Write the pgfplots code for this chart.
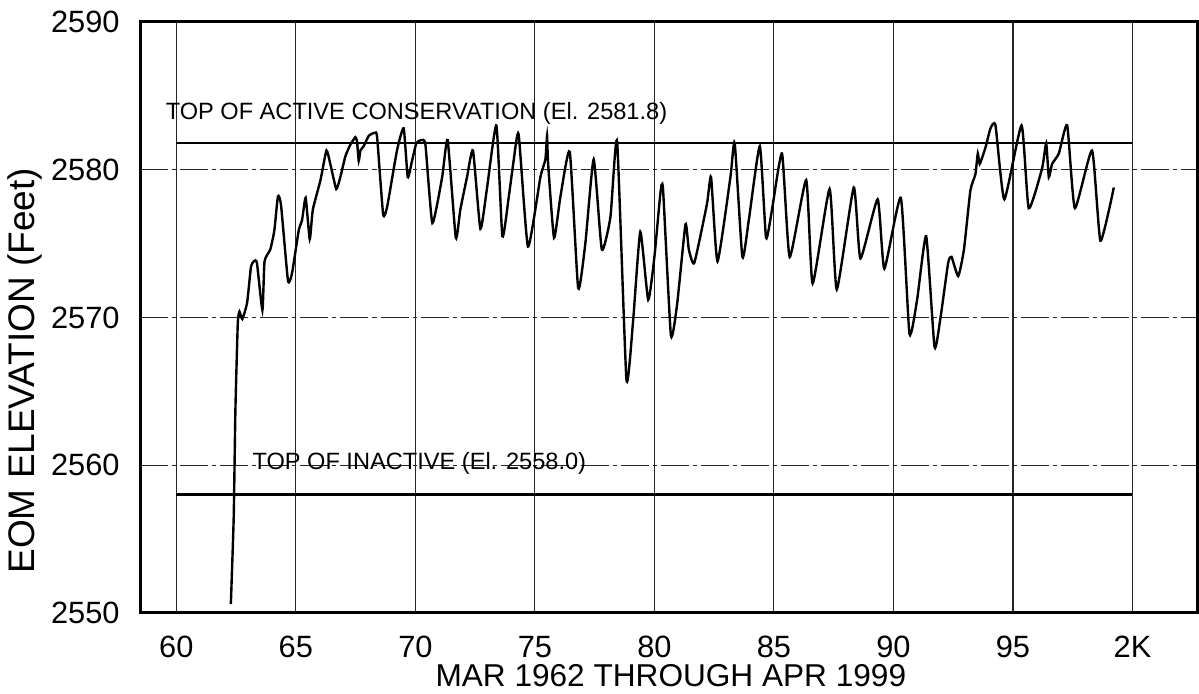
\documentclass[border=0pt]{standalone}
\usepackage{fontspec}
\setmainfont{Liberation Sans}
\usepackage{pgfplots}
\pgfplotsset{compat=1.18}

\begin{document}
\begin{tikzpicture}
\begin{axis}[
  scale only axis,
  width=528.25pt, height=295.5pt,
  xmin=58.5, xmax=102.7,
  ymin=2550, ymax=2590,
  xtick={60,65,...,100},
  xticklabels={60,65,70,75,80,85,90,95,2K},
  ytick={2550,2560,...,2590},
  grid=major,
  major x grid style={black!85, line width=0.55pt},
  major y grid style={black!85, line width=0.55pt, dash pattern=on 14pt off 2pt on 2pt off 2pt},
  major tick length=0pt,
  axis line style={line width=1.5pt},
  tick label style={font=\fontsize{15.4}{18}\selectfont, inner sep=0pt},
  /pgf/number format/assume math mode=true,
  /pgf/number format/set thousands separator={},
  xticklabel shift=11.5pt,
  yticklabel shift=10.25pt,
  xlabel={MAR 1962 THROUGH APR 1999},
  ylabel={EOM ELEVATION (Feet)},
  xlabel style={font=\fontsize{15.8}{18}\selectfont, at={(axis description cs:0.502,-0.086)}, anchor=north, inner sep=0pt},
  ylabel style={font=\fontsize{18.5}{22}\selectfont, at={(axis description cs:-0.109,0.41)}, anchor=center, inner sep=0pt},
]
% monthly end-of-month elevation
\addplot[black, line width=1.2pt, smooth, tension=0.3] coordinates {
(62.28,2550.6)(62.40,2556.5)(62.47,2563.7)(62.57,2569.6)(62.64,2570.4)
(62.76,2569.9)(62.96,2571.0)(63.12,2573.4)(63.24,2573.8)(63.37,2573.7)
(63.60,2570.5)(63.69,2573.8)(63.93,2574.6)(64.10,2575.9)(64.25,2578.2)
(64.38,2577.6)(64.67,2572.5)(64.84,2573.0)(65.12,2575.9)(65.26,2576.6)
(65.41,2578.1)(65.58,2575.3)(65.71,2577.3)(66.03,2579.3)(66.28,2581.3)
(66.44,2580.4)(66.69,2578.7)(66.86,2579.5)(67.07,2580.9)(67.28,2581.7)
(67.49,2582.2)(67.56,2581.9)(67.63,2580.6)(67.70,2581.3)(67.84,2581.6)
(68.05,2582.3)(68.30,2582.5)(68.40,2582.2)(68.65,2577.0)(68.82,2577.5)
(69.23,2581.3)(69.51,2582.8)(69.68,2579.5)(69.86,2580.6)(70.04,2581.8)
(70.24,2582.0)(70.42,2581.7)(70.71,2576.4)(71.12,2579.5)(71.35,2582.0)
(71.69,2575.4)(71.88,2577.3)(72.16,2579.5)(72.41,2581.3)(72.72,2576.0)
(73.00,2578.8)(73.39,2583.0)(73.64,2575.5)(73.91,2578.2)(74.11,2580.6)
(74.32,2582.4)(74.71,2574.8)(75.23,2579.5)(75.44,2580.7)(75.51,2582.3)
(75.55,2580.5)(75.80,2575.4)(76.07,2578.2)(76.46,2581.2)(76.81,2572.0)
(77.11,2575.0)(77.46,2580.7)(77.80,2574.6)(78.16,2576.8)(78.44,2581.9)
(78.83,2565.8)(79.11,2569.8)(79.41,2575.8)(79.74,2571.2)(80.00,2574.1)
(80.25,2578.4)(80.36,2578.7)(80.69,2568.8)(80.95,2570.9)(81.30,2576.3)
(81.44,2574.6)(81.67,2573.7)(82.20,2577.7)(82.37,2579.5)(82.64,2573.8)
(83.18,2579.5)(83.36,2581.8)(83.68,2574.1)(83.95,2576.6)(84.41,2581.6)
(84.67,2575.4)(84.92,2577.3)(85.34,2581.1)(85.66,2574.1)(86.35,2579.3)
(86.62,2572.3)(87.33,2578.7)(87.63,2571.9)(88.34,2578.8)(88.62,2574.0)
(89.34,2578.0)(89.62,2573.3)(90.31,2578.1)(90.67,2568.9)(90.99,2571.2)
(91.37,2575.5)(91.72,2568.0)(91.97,2570.0)(92.29,2573.7)(92.43,2574.1)
(92.71,2572.8)(92.95,2574.6)(93.22,2578.6)(93.43,2579.7)(93.53,2581.1)
(93.61,2580.4)(93.85,2581.5)(94.06,2582.8)(94.27,2583.0)(94.64,2578.0)
(95.36,2583.0)(95.66,2577.4)(96.22,2580.1)(96.39,2581.8)(96.50,2579.5)
(96.64,2580.4)(96.92,2581.1)(97.27,2583.0)(97.59,2577.4)(98.31,2581.3)
(98.66,2575.2)(99.22,2578.8)
};
% pool limits
\addplot[black, line width=1.3pt] coordinates {(60,2581.8)(100,2581.8)};
\addplot[black, line width=1.3pt] coordinates {(60,2558)(100,2558)};
\node[anchor=west, inner sep=0pt, font=\fontsize{11.8}{14}\selectfont] at (axis cs:59.54,2583.8) {TOP OF ACTIVE CONSERVATION (El. 2581.8)};
\node[anchor=west, inner sep=0pt, font=\fontsize{11.8}{14}\selectfont] at (axis cs:63.17,2560.15) {TOP OF INACTIVE (El. 2558.0)};
\coordinate (bl) at (rel axis cs:0,0);
\coordinate (tr) at (rel axis cs:1,1);
\end{axis}
\pgfresetboundingbox
\path[use as bounding box] ([xshift=-70.25pt,yshift=-40.5pt]bl) rectangle ([xshift=1pt,yshift=11pt]tr);
\end{tikzpicture}
\end{document}
